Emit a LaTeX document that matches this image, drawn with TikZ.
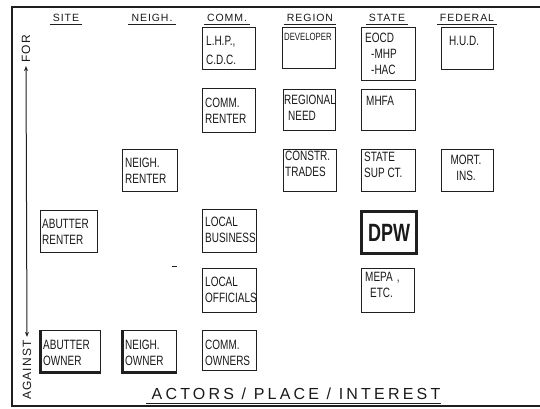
\documentclass[tikz,border=0pt]{standalone}
\usepackage{fontspec}
\setmainfont{Liberation Sans}
\newfontfamily\hand[FakeStretch=0.74]{Liberation Sans}
\newfontfamily\hdrfont[LetterSpace=9]{Liberation Sans}
\newfontfamily\sidefont[LetterSpace=10]{Liberation Sans}
\newfontfamily\titlefont[LetterSpace=20]{Liberation Sans}
\newfontfamily\dpwfont[FakeStretch=0.72]{Liberation Sans}
\usetikzlibrary{arrows.meta,calc}
\tikzset{
  ink/.style={draw=black!88},
  frameline/.style={ink, line width=1.4pt},
  box/.style={ink, line width=1.2pt, inner sep=0pt, rectangle},
  heavy/.style={ink, line width=3pt},
  lab/.style={font=\hand\fontsize{13.5}{16}\selectfont, align=left, inner sep=0pt, anchor=north west, text=black!90},
  smalllab/.style={lab, font=\hand\fontsize{10.5}{12}\selectfont},
  hdr/.style={font=\hdrfont\fontsize{10.5}{12}\selectfont, inner sep=1pt, anchor=base, text=black!90},
  ul/.style={ink, line width=1pt},
  side/.style={font=\sidefont\fontsize{12}{14}\selectfont, inner sep=0pt, text=black!90},
  ttl/.style={font=\titlefont\fontsize{16}{18}\selectfont, inner sep=0pt, anchor=base, text=black!90},
}
\newcommand\abox[6][]{%
  \node[box,#1,anchor=north west,minimum width={(#5-#3)*1pt},minimum height={(#6-#4)*1pt}] (#2) at (#3,#4) {};}
\begin{document}
\begin{tikzpicture}[x=1pt,y=-1pt]
\useasboundingbox (0,0) rectangle (540,408);
% frame
\draw[frameline] (540,7) -- (12,7) -- (12,406) -- (540,406);

% headers
\foreach \nm/\x/\t in {site/66/SITE, neigh/152/NEIGH., comm/227/COMM., region/310/REGION, state/387/STATE, fed/467/FEDERAL}{
  \node[hdr] (h-\nm) at (\x,21) {\t};
  \draw[ul] ([xshift=-2pt,yshift=-2pt]h-\nm.south west) -- ([xshift=2pt,yshift=-2pt]h-\nm.south east);
}

% boxes
\abox{lhp}{202}{27}{255}{69}
\abox{commrenter}{202}{88}{255}{132}
\abox{developer}{282}{27}{335}{68}
\abox{eocd}{361}{27}{415}{80}
\abox{hud}{441}{27}{493}{69}
\abox{regional}{283}{89}{335}{130}
\abox{mhfa}{361}{89}{415}{130}
\abox{neighrenter}{122}{149}{177}{191}
\abox{constr}{283}{149}{336}{191}
\abox{statesup}{361}{149}{415}{191}
\abox{mort}{441}{149}{493}{191}
\abox{abutrenter}{40}{210}{97}{252}
\abox{localbus}{202}{209}{256}{252}
\abox[line width=3pt]{dpw}{360}{210}{415}{252}
\abox{localoff}{202}{268}{256}{312}
\abox{mepa}{361}{268}{414}{312}
\abox{abutowner}{40}{330}{100}{371}
\abox{neighowner}{122}{330}{176}{371}
\abox{commowners}{202}{330}{256}{370}
\draw[heavy] (abutowner.north west) -- (abutowner.south west) -- (abutowner.south east);
\draw[heavy] (neighowner.north west) -- (neighowner.south west) -- (neighowner.south east);

% labels
\node[lab] (t-lhp) at (206,36) {L.H.P.,\\[3pt]C.D.C.};
\node[lab] (t-commrenter) at (205,98) {COMM.\\RENTER};
\node[smalllab] (t-developer) at (284,33) {DEVELOPER};
\node[lab] (t-eocd) at (365,33) {EOCD\\\hspace*{6pt}-MHP\\\hspace*{6pt}-HAC};
\node[lab] (t-hud) at (449,36) {H.U.D.};
\node[lab] (t-regional) at (284,95) {REGIONAL\\\hspace*{4pt}NEED};
\node[lab] (t-mhfa) at (366,96) {MHFA};
\node[lab] (t-neighrenter) at (125,158) {NEIGH.\\RENTER};
\node[lab] (t-constr) at (285,151) {CONSTR.\\TRADES};
\node[lab] (t-statesup) at (364,152) {STATE\\SUP CT.};
\node[lab, anchor=north, align=center] (t-mort) at (466,155) {MORT.\\INS.};
\node[lab] (t-abutrenter) at (42,219) {ABUTTER\\RENTER};
\node[lab] (t-localbus) at (205,217) {LOCAL\\BUSINESS};
\node[font=\dpwfont\bfseries\fontsize{25}{25}\selectfont, inner sep=0pt, text=black!90] (t-dpw) at (dpw.center) {DPW};
\node[lab] (t-localoff) at (205,277) {LOCAL\\OFFICIALS};
\node[lab] (t-mepa) at (365,272) {MEPA\kern4pt,\\\hspace*{5pt}ETC.};
\node[lab] (t-abutowner) at (43,340) {ABUTTER\\OWNER};
\node[lab] (t-neighowner) at (125,340) {NEIGH.\\OWNER};
\node[lab] (t-commowners) at (205,340) {COMM.\\OWNERS};

% stray mark
\draw[ink, line width=1pt] (172,266) -- (177,266);

% for / against axis
\node[side, rotate=90] (for) at (26,49) {FOR};
\node[side, rotate=90] (against) at (27,370) {AGAINST};
\draw[ink, line width=1pt, {Stealth[length=5pt,width=4pt]}-{Stealth[length=5pt,width=4pt]}]
  ([yshift=-3pt]for.west) -- ([yshift=3pt]against.east);

% title
\node[ttl] (title) at (296,399) {ACTORS / PLACE / INTEREST};
\draw[ul] ($(title.base west)+(-5,4)$) -- ($(title.base east)+(0,4)$);
\end{tikzpicture}
\end{document}
